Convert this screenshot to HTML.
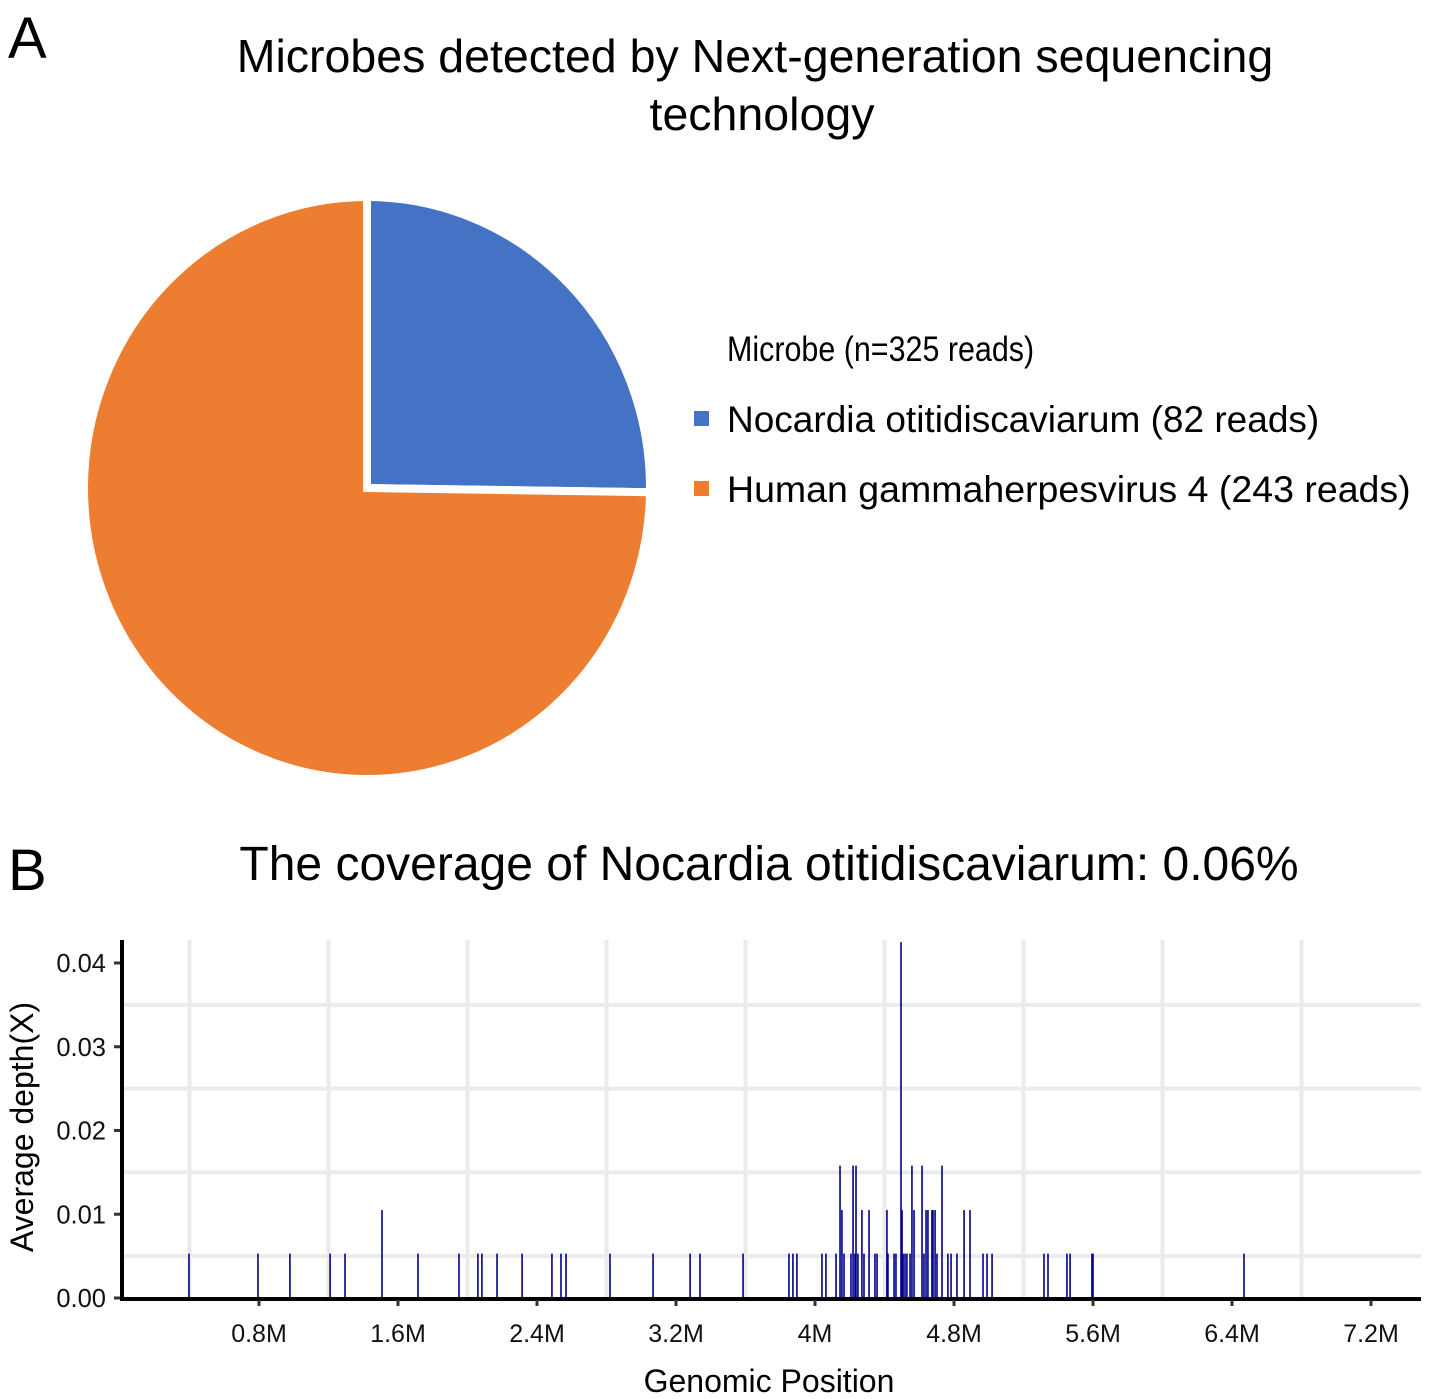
<!DOCTYPE html>
<html><head><meta charset="utf-8"><style>
html,body{margin:0;padding:0;background:#fff;}
svg{display:block;font-family:"Liberation Sans",sans-serif;}
</style></head><body>
<svg id="fig" width="1429" height="1399" viewBox="0 0 1429 1399" xmlns="http://www.w3.org/2000/svg">
<text x="8" y="58" font-size="58">A</text>
<text x="755" y="72" font-size="46.5" text-anchor="middle">Microbes detected by Next-generation sequencing</text>
<text x="762" y="130" font-size="46.5" text-anchor="middle">technology</text>
<g id="pie"></g>
<g>
<text x="0" y="0" font-size="35" transform="translate(727 361) scale(0.87 1)">Microbe (n=325 reads)</text>
<rect x="694" y="411" width="15" height="15" fill="#4472C4"/>
<text x="727" y="432" font-size="37">Nocardia otitidiscaviarum (82 reads)</text>
<rect x="694" y="481" width="15" height="15" fill="#ED7D31"/>
<text x="727" y="502" font-size="37.5">Human gammaherpesvirus 4 (243 reads)</text>
</g>
<text x="8" y="890" font-size="58">B</text>
<text x="769" y="880" font-size="48" text-anchor="middle">The coverage of Nocardia otitidiscaviarum: 0.06%</text>
<g id="grid"></g>
<g id="bars"></g>
<g id="axes"></g>
<text x="769" y="1392" font-size="32" text-anchor="middle">Genomic Position</text>
<text x="0" y="0" font-size="32" text-anchor="middle" transform="translate(33 1127) rotate(-90)">Average depth(X)</text>
</svg>
<script>
const sliceLabels = ["Nocardia otitidiscaviarum", "Human gammaherpesvirus 4"];
const sliceReads = [82, 243];
const sliceColors = ["#4472C4", "#ED7D31"];
const positionsM = [0.397,0.794,0.978,1.209,1.295,1.508,1.715,1.951,2.060,2.083,2.170,2.314,2.486,2.538,2.567,2.820,3.068,3.281,3.338,3.586,3.850,3.873,3.896,4.040,4.063,4.121,4.144,4.155,4.167,4.207,4.219,4.230,4.236,4.247,4.270,4.282,4.311,4.345,4.357,4.414,4.420,4.455,4.466,4.495,4.501,4.507,4.518,4.529,4.547,4.558,4.570,4.616,4.627,4.639,4.650,4.673,4.679,4.691,4.702,4.731,4.765,4.783,4.817,4.858,4.892,4.967,4.990,5.019,5.318,5.341,5.450,5.468,5.594,5.600,6.469];
const depths = [0.0053,0.0053,0.0053,0.0053,0.0053,0.0105,0.0053,0.0053,0.0053,0.0053,0.0053,0.0053,0.0053,0.0053,0.0053,0.0053,0.0053,0.0053,0.0053,0.0053,0.0053,0.0053,0.0053,0.0053,0.0053,0.0053,0.0158,0.0105,0.0053,0.0053,0.0158,0.0053,0.0158,0.0053,0.0105,0.0053,0.0105,0.0053,0.0053,0.0105,0.0053,0.0053,0.0053,0.0425,0.0105,0.0053,0.0053,0.0053,0.0053,0.0158,0.0105,0.0158,0.0053,0.0105,0.0105,0.0105,0.0105,0.0105,0.0053,0.0158,0.0053,0.0053,0.0053,0.0105,0.0105,0.0053,0.0053,0.0053,0.0053,0.0053,0.0053,0.0053,0.0053,0.0053,0.0053];
const xTicks = [0.8,1.6,2.4,3.2,4.0,4.8,5.6,6.4,7.2];
const xTickLabels = ["0.8M","1.6M","2.4M","3.2M","4M","4.8M","5.6M","6.4M","7.2M"];
const yTicks = [0,0.01,0.02,0.03,0.04];
const yTickLabels = ["0.00","0.01","0.02","0.03","0.04"];
const xGrid = [0.4,1.2,2.0,2.8,3.6,4.4,5.2,6.0,6.8];
const yGrid = [0.005,0.015,0.025,0.035];

const NS = "http://www.w3.org/2000/svg";
function mk(tag, attrs, parent){const e=document.createElementNS(NS,tag);for(const k in attrs)e.setAttribute(k,attrs[k]);parent.appendChild(e);return e;}

const pie = document.getElementById('pie');
const cx=367, cy=488, rx=283, ry=291;
const total = sliceReads.reduce((a,b)=>a+b,0);
let ang = 0;
sliceReads.forEach((v,i)=>{
  const a0 = ang, a1 = ang + v/total*2*Math.PI; ang = a1;
  const x0 = cx + rx*Math.sin(a0), y0 = cy - ry*Math.cos(a0);
  const x1 = cx + rx*Math.sin(a1), y1 = cy - ry*Math.cos(a1);
  const large = (a1-a0) > Math.PI ? 1 : 0;
  const p = mk('path',{d:`M${cx},${cy} L${x0},${y0} A${rx},${ry} 0 ${large} 1 ${x1},${y1} Z`,fill:sliceColors[i],stroke:'#fff','stroke-width':8,'stroke-linejoin':'miter'},pie);
  
  
});

const X0=120, XS=173.75, Y0=1298, YS=8375, TOP=940, RIGHT=1421;
const xs = v => X0 + v*XS;
const ys = v => Y0 - v*YS;
const grid = document.getElementById('grid');
xGrid.forEach(g=>{
  const l = mk('line',{x1:xs(g),x2:xs(g),y1:TOP,y2:Y0,stroke:'#ebebeb','stroke-width':4},grid);
  
  
});
yGrid.forEach(g=>{
  const l = mk('line',{x1:X0,x2:RIGHT,y1:ys(g),y2:ys(g),stroke:'#ebebeb','stroke-width':4},grid);
  
  
});
const bars = document.getElementById('bars');
positionsM.forEach((p,i)=>{
  const b = mk('line',{x1:xs(p),x2:xs(p),y1:Y0,y2:ys(depths[i]),stroke:'#00008B','stroke-width':1.6},bars);
  
  
});
const axes = document.getElementById('axes');
let l = mk('line',{x1:X0+2,x2:X0+2,y1:TOP,y2:Y0+2,stroke:'#000','stroke-width':4},axes);


l = mk('line',{x1:X0,x2:RIGHT,y1:Y0+1,y2:Y0+1,stroke:'#000','stroke-width':4},axes);


xTicks.forEach((t,i)=>{
  const tk = mk('line',{x1:xs(t),x2:xs(t),y1:Y0+2,y2:Y0+8,stroke:'#333','stroke-width':3},axes);
  
  
  const tx = mk('text',{x:xs(t),y:1342,'font-size':25,'text-anchor':'middle',fill:'#111'},axes);
  tx.textContent = xTickLabels[i];
  
  
});
yTicks.forEach((t,i)=>{
  const tk = mk('line',{x1:X0-6,x2:X0,y1:ys(t),y2:ys(t),stroke:'#333','stroke-width':3},axes);
  
  
  const tx = mk('text',{x:X0-14,y:ys(t)+9,'font-size':25.5,'text-anchor':'end',fill:'#111'},axes);
  tx.textContent = yTickLabels[i];
  
  
});
</script>
</body></html>
